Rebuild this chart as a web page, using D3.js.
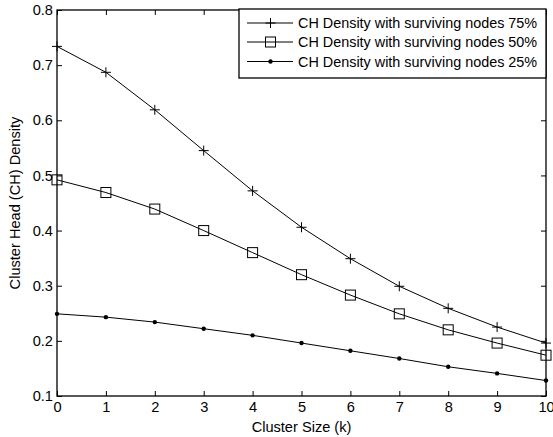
<!DOCTYPE html>
<html>
<head>
<meta charset="utf-8">
<script src="https://cdn.jsdelivr.net/npm/d3@7"></script>
<style>
  body { margin: 0; background: #fff; }
  svg { display: block; font-family: "Liberation Sans", Arial, sans-serif; }
  .tick text { font-size: 14.6px; fill: #000; }
</style>
</head>
<body>
<div id="chart"></div>
<script>
const clusterSize = [0, 1, 2, 3, 4, 5, 6, 7, 8, 9, 10];
const density75 = [0.734, 0.687, 0.619, 0.545, 0.472, 0.406, 0.349, 0.299, 0.259, 0.225, 0.196];
const density50 = [0.492, 0.469, 0.439, 0.400, 0.360, 0.320, 0.283, 0.249, 0.220, 0.196, 0.174];
const density25 = [0.249, 0.243, 0.234, 0.222, 0.210, 0.196, 0.182, 0.168, 0.153, 0.141, 0.128];
const yTicks = [0.1, 0.2, 0.3, 0.4, 0.5, 0.6, 0.7, 0.8];
const seriesNames = [
  "CH Density with surviving nodes 75%",
  "CH Density with surviving nodes 50%",
  "CH Density with surviving nodes 25%"
];

const W = 553, H = 437;
const M = { top: 10, right: 7, bottom: 41, left: 57 };
const iw = W - M.left - M.right;
const ih = H - M.top - M.bottom;

const svg = d3.select("#chart").append("svg")
  .attr("width", W)
  .attr("height", H);

const g = svg.append("g")
  .attr("transform", `translate(${M.left},${M.top})`);

const x = d3.scaleLinear().domain([0, 10]).range([0, iw]);
const y = d3.scaleLinear().domain([0.1, 0.8]).range([ih, 0]);

// axes, MATLAB style: ticks inward, box on
const tickLen = 5;
g.append("g")
  .attr("transform", `translate(0,${ih})`)
  .call(d3.axisBottom(x).tickValues(clusterSize).tickSize(-tickLen).tickPadding(6).tickFormat(d3.format("d")));
g.append("g")
  .call(d3.axisTop(x).tickValues(clusterSize).tickSize(-tickLen).tickFormat(""));
g.append("g")
  .call(d3.axisLeft(y).tickValues(yTicks).tickSize(-tickLen).tickPadding(4).tickFormat(d3.format(".1f")));
g.append("g")
  .attr("transform", `translate(${iw},0)`)
  .call(d3.axisRight(y).tickValues(yTicks).tickSize(-tickLen).tickFormat(""));

g.selectAll(".domain").remove();
g.selectAll(".tick line").attr("stroke", "#000");

g.append("rect")
  .attr("width", iw)
  .attr("height", ih)
  .attr("fill", "none")
  .attr("stroke", "#000")
  .attr("stroke-width", 1.3);

const line = d3.line()
  .x((d, i) => x(clusterSize[i]))
  .y(d => y(d));

const series = [
  { values: density75, marker: "plus" },
  { values: density50, marker: "square" },
  { values: density25, marker: "dot" }
];

function drawMarker(sel, type, cx, cy) {
  if (type === "plus") {
    sel.append("path")
      .attr("d", `M${cx - 5},${cy}H${cx + 5}M${cx},${cy - 5}V${cy + 5}`)
      .attr("stroke", "#000")
      .attr("stroke-width", 1);
  } else if (type === "square") {
    sel.append("rect")
      .attr("x", cx - 5).attr("y", cy - 5)
      .attr("width", 10).attr("height", 10)
      .attr("fill", "none")
      .attr("stroke", "#000")
      .attr("stroke-width", 1);
  } else {
    sel.append("circle")
      .attr("cx", cx).attr("cy", cy)
      .attr("r", 2.2)
      .attr("fill", "#000");
  }
}

series.forEach(s => {
  g.append("path")
    .datum(s.values)
    .attr("d", line)
    .attr("fill", "none")
    .attr("stroke", "#000")
    .attr("stroke-width", 1);
  const mg = g.append("g");
  s.values.forEach((v, i) => drawMarker(mg, s.marker, x(clusterSize[i]), y(v)));
});

// labels
svg.append("text")
  .attr("x", M.left + iw / 2)
  .attr("y", 432)
  .attr("text-anchor", "middle")
  .attr("font-size", 14.6)
  .text("Cluster Size (k)");

svg.append("text")
  .attr("transform", `translate(20,${M.top + ih / 2}) rotate(-90)`)
  .attr("text-anchor", "middle")
  .attr("font-size", 14.6)
  .text("Cluster Head (CH) Density");

// legend
const lg = svg.append("g").attr("transform", "translate(239,9)");
lg.append("rect")
  .attr("width", 307)
  .attr("height", 69)
  .attr("fill", "#fff")
  .attr("stroke", "#000")
  .attr("stroke-width", 1.3);

const rowY = [14, 33, 52.5];
series.forEach((s, i) => {
  const ry = rowY[i];
  lg.append("line")
    .attr("x1", 8).attr("x2", 54)
    .attr("y1", ry).attr("y2", ry)
    .attr("stroke", "#000");
  drawMarker(lg, s.marker, 31.5, ry);
  lg.append("text")
    .attr("x", 59)
    .attr("y", ry)
    .attr("dy", "0.35em")
    .attr("font-size", 14.4)
    .text(seriesNames[i]);
});
</script>
</body>
</html>
